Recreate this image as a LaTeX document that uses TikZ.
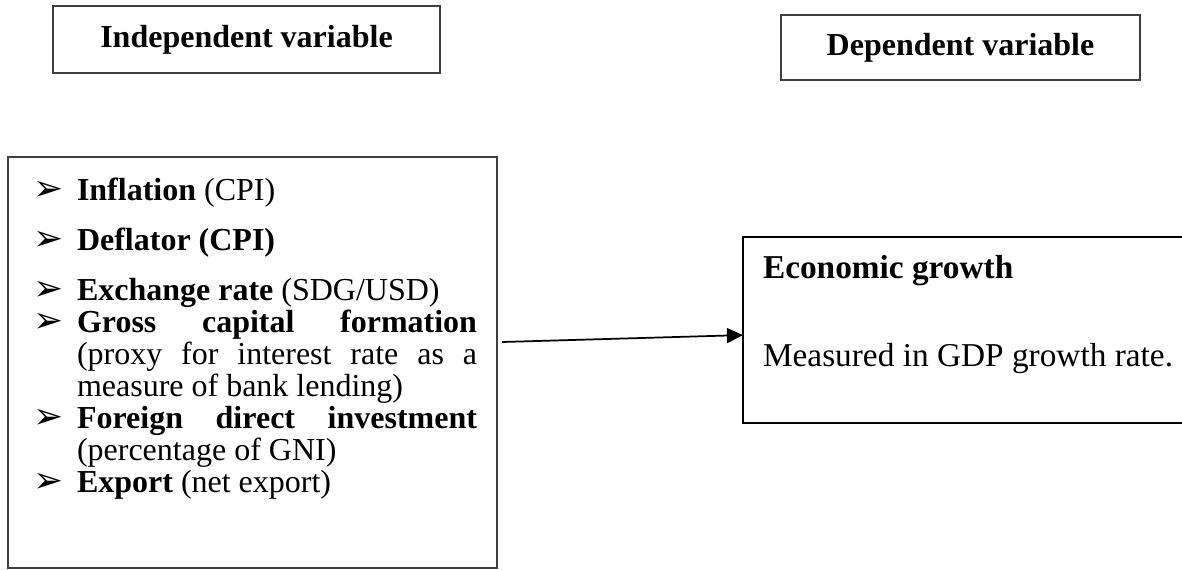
\documentclass[tikz,border=0pt]{standalone}
\usepackage{fontspec}
\setmainfont{Liberation Serif}
\newfontfamily\dingfont{DejaVu Sans}
\usetikzlibrary{positioning}
\usetikzlibrary{arrows.meta}
\definecolor{boxgray}{HTML}{3F3F3F}
% one unit = one pixel of the sketch
\newcommand{\pix}[1]{\dimexpr0.375pt*#1\relax}
\newcommand{\varitem}[1]{\par\noindent\llap{\makebox[\pix{44}][l]{\dingfont\fontsize{13.5}{13.5}\selectfont ➢}}#1\par}
\tikzset{
headbox/.style={ % the two titles at the top
draw=boxgray,
line width=0.4pt,
font=\bfseries\fontsize{12}{14}\selectfont},
listbox/.style={
draw=boxgray,
line width=0.4pt,
anchor=north west},
growthbox/.style={
draw=black,
line width=0.6pt,
anchor=north west},
link/.style={-{Triangle[length=6pt,width=5.6pt]}, line width=0.65pt}}

\begin{document}
\begin{tikzpicture}[x=0.375pt, y=-0.375pt, every node/.style={inner sep=0pt, outer sep=0pt}]
	\useasboundingbox (0,0) rectangle (1182,569);
	\node[headbox, minimum width=387*0.375pt, minimum height=67*0.375pt] (indep) at (246.5,39.5) {Independent variable};
	\node[headbox, minimum width=359*0.375pt, minimum height=65*0.375pt] (dep) at (960.5,47.5) {Dependent variable};
	\node[listbox] (vars) at (8,157) {\parbox[c][\pix{411}][t]{\pix{489}}{%
		\fontsize{12}{12}\selectfont
		\leftskip=\pix{69}\rightskip=\pix{20}\parfillskip=0pt plus 1fil
		\vspace*{\pix{21}}
		\varitem{\textbf{Inflation} (CPI)}\vspace{\pix{18}}
		\varitem{\textbf{Deflator (CPI)}}\vspace{\pix{18}}
		\varitem{\textbf{Exchange rate} (SDG/USD)}
		\varitem{\textbf{Gross capital formation}\linebreak (proxy for interest rate as a\linebreak measure of bank lending)}
		\varitem{\textbf{Foreign direct investment}\linebreak (percentage of GNI)}
		\varitem{\textbf{Export} (net export)}}};
	\node[growthbox] (growth) at (743,237) {\parbox[c][\pix{186}][t]{\pix{441}}{%
		\fontsize{12.5}{15}\selectfont
		\leftskip=\pix{20}
		\vspace*{\pix{18}}
		\noindent\textbf{Economic growth}\par\vspace{\pix{48}}
		\noindent Measured in GDP growth rate.}};
	\coordinate (start) at (502,342);
	\draw[link] (start) -- ([yshift=-1.9pt]growth.west);
\end{tikzpicture}
\end{document}
